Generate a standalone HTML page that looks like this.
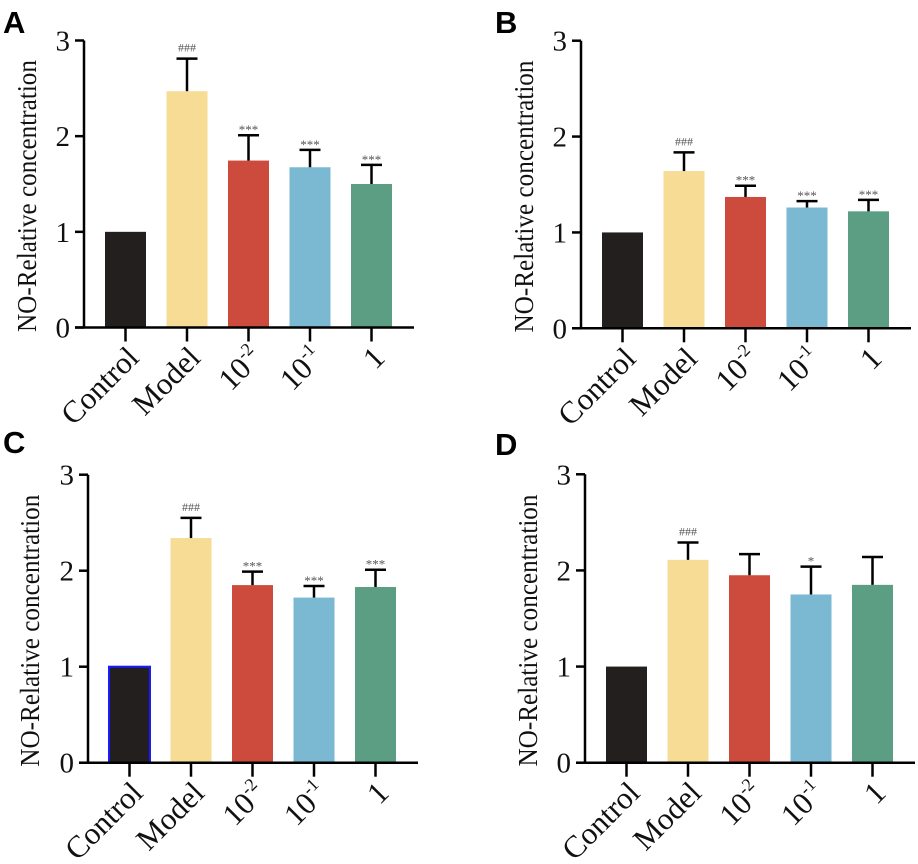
<!DOCTYPE html>
<html><head><meta charset="utf-8"><style>
html,body{margin:0;padding:0;background:#fff;}
svg{display:block;}
</style></head><body>
<svg id="chart" width="918" height="864" viewBox="0 0 918 864" xmlns="http://www.w3.org/2000/svg"></svg>
<script>
const categories = ["Control","Model","10^-2","10^-1","1"];
const barColors = ["#231f1e","#f6dc95","#cc4b3c","#7bb9d3","#5c9e84"];
const yTicks = [0,1,2,3];
const panelLetters = ["A","B","C","D"];
const meansA = [1, 2.47, 1.745, 1.675, 1.50];
const errTopA = [1, 2.81, 2.01, 1.857, 1.70];
const marksA = ["", "###", "***", "***", "***"];
const meansB = [1, 1.64, 1.37, 1.26, 1.22];
const errTopB = [1, 1.835, 1.487, 1.327, 1.34];
const marksB = ["", "###", "***", "***", "***"];
const meansC = [1, 2.34, 1.85, 1.72, 1.83];
const errTopC = [1, 2.55, 1.99, 1.84, 2.01];
const marksC = ["", "###", "***", "***", "***"];
const meansD = [1, 2.11, 1.95, 1.75, 1.85];
const errTopD = [1, 2.29, 2.17, 2.04, 2.14];
const marksD = ["", "###", "", "*", ""];

const NS = "http://www.w3.org/2000/svg";
const svg = document.getElementById("chart");
function mk(tag, attrs, parent){
  const e = document.createElementNS(NS, tag);
  for (const k in attrs) e.setAttribute(k, attrs[k]);
  (parent||svg).appendChild(e);
  return e;
}
const layouts = [
  {ax:84, y0:327.5, y3:40.5, lx:3, ly:33, tx:27},
  {ax:581, y0:328.3, y3:40.7, lx:495, ly:33, tx:524},
  {ax:88, y0:762.7, y3:474.7, lx:3, ly:453, tx:30},
  {ax:585, y0:762.7, y3:474.3, lx:495, ly:455, tx:528}
];
const allMeans = [meansA, meansB, meansC, meansD];
const allErr = [errTopA, errTopB, errTopC, errTopD];
const allMarks = [marksA, marksB, marksC, marksD];

layouts.forEach((L, p) => {
  const g = mk("g", {});
  
  
  const yS = v => L.y0 - v * (L.y0 - L.y3) / 3;
  const xS = i => L.ax + 41.5 + i * 61.5;
  const bw = 41;
  const lt = mk("text", {x:L.lx, y:L.ly, "font-family":"Liberation Sans, sans-serif", "font-weight":"bold", "font-size":"31", fill:"#000"}, g);
  lt.textContent = panelLetters[p];
  
  
  const cy = (L.y0 + L.y3) / 2 + 12;
  const t = mk("text", {x:L.tx, y:cy, transform:`rotate(-90 ${L.tx} ${cy})`, "text-anchor":"middle", "dominant-baseline":"central", "font-family":"Liberation Serif, serif", "font-size":"27", textLength:"272", lengthAdjust:"spacingAndGlyphs", fill:"#111"}, g);
  t.textContent = "NO-Relative concentration";
  
  
  const means = allMeans[p], errs = allErr[p], marks = allMarks[p];
  categories.forEach((c, i) => {
    const cx = xS(i);
    const r = mk("rect", {x:cx - bw/2, y:yS(means[i]), width:bw, height:yS(0) - yS(means[i]), fill:barColors[i]}, g);
    if (p === 2 && i === 0) { r.setAttribute("stroke", "#1a1aff"); r.setAttribute("stroke-width", "2"); }
    
    
    if (errs[i] > means[i]) {
      const e1 = mk("line", {x1:cx, x2:cx, y1:yS(means[i]), y2:yS(errs[i]), stroke:"#000", "stroke-width":"2.5"}, g);
      
      
      const e2 = mk("line", {x1:cx - 10.5, x2:cx + 10.5, y1:yS(errs[i]), y2:yS(errs[i]), stroke:"#000", "stroke-width":"2.5"}, g);
      
      
    }
    if (marks[i]) {
      const isHash = marks[i][0] === "#";
      const m = mk("text", {x:cx, y:yS(errs[i]) - (isHash ? 7 : 1), "text-anchor":"middle", "font-family":"Liberation Serif, serif", "font-size": isHash ? "12" : "13", fill:"#555"}, g);
      m.textContent = marks[i];
      
      
    }
    mk("line", {x1:cx, x2:cx, y1:L.y0, y2:L.y0 + 14, stroke:"#000", "stroke-width":"2.5"}, g);
    const bx = cx + 15, by = L.y0 + 32;
    const xl = mk("text", {x:bx, y:by, transform:`rotate(-45 ${bx} ${by})`, "text-anchor":"end", "font-family":"Liberation Serif, serif", "font-size":"31", fill:"#111"}, g);
    
    
    if (c.indexOf("^") >= 0) {
      const parts = c.split("^");
      const a = mk("tspan", {}, xl); a.textContent = parts[0];
      const b = mk("tspan", {"font-size":"18", dy:"-13"}, xl); b.textContent = parts[1];
    } else xl.textContent = c;
  });
  mk("line", {x1:L.ax, x2:L.ax, y1:L.y3, y2:L.y0 + 1, stroke:"#000", "stroke-width":"2.5"}, g);
  mk("line", {x1:L.ax - 9, x2:L.ax + 330, y1:L.y0, y2:L.y0, stroke:"#000", "stroke-width":"2.5"}, g);
  yTicks.forEach(v => {
    mk("line", {x1:L.ax - 9, x2:L.ax, y1:yS(v), y2:yS(v), stroke:"#000", "stroke-width":"2.5"}, g);
    const yl = mk("text", {x:L.ax - 14, y:yS(v) + 10, "text-anchor":"end", "font-family":"Liberation Serif, serif", "font-size":"29", fill:"#111"}, g);
    yl.textContent = v;
    
    
  });
});
</script>
</body></html>
